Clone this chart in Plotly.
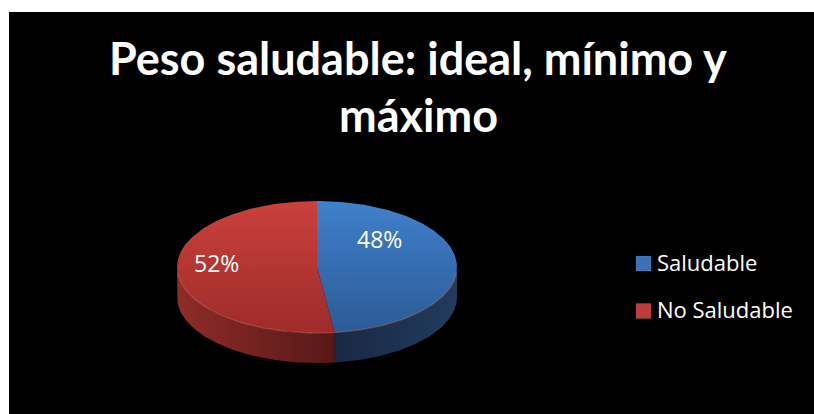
import numpy as np
import plotly.graph_objects as go

# Chart data
categories = ["Saludable", "No Saludable"]
values = [48, 52]

# Styling per category
top_colors = [("#4080CC", "#2C5B96"), ("#CB403D", "#9E2C2A")]
side_colors = [("#172944", "#233B5E"), ("#8E2C29", "#571817")]
legend_colors = ["#3A72B8", "#BE3B38"]

W, H = 814, 414
cx, cy, rx, ry, depth = 317, 267, 140, 66, 30


def pt(theta_deg, dz=0.0):
    t = np.radians(theta_deg)
    return cx + rx * np.sin(t), cy - ry * np.cos(t) + dz


fig = go.Figure()

total = float(sum(values))
bounds = []
acc = 0.0
for v in values:
    a0 = acc / total * 360.0
    acc += v
    a1 = acc / total * 360.0
    bounds.append((a0, a1))

# Side walls (only the front half of the disc is visible)
for (a0, a1), (c_left, c_right) in zip(bounds, side_colors):
    s0, s1 = max(a0, 90.0), min(a1, 270.0)
    if s1 <= s0:
        continue
    th = np.linspace(s0, s1, 80)
    xt, yt = pt(th)
    xb, yb = pt(th[::-1], depth)
    xs = np.concatenate([xt, xb, xt[:1]])
    ys = np.concatenate([yt, yb, yt[:1]])
    fig.add_trace(go.Scatter(
        x=xs, y=ys, mode="lines", line=dict(width=0), fill="toself",
        fillgradient=dict(type="horizontal",
                          colorscale=[[0, c_left], [1, c_right]]),
        hoverinfo="skip", showlegend=False))

# Top faces
for (a0, a1), (c_light, c_dark), name in zip(bounds, top_colors, categories):
    th = np.linspace(a0, a1, 160)
    xa, ya = pt(th)
    xs = np.concatenate([[cx], xa, [cx]])
    ys = np.concatenate([[cy], ya, [cy]])
    fig.add_trace(go.Scatter(
        x=xs, y=ys, mode="lines", line=dict(width=0), fill="toself",
        fillgradient=dict(type="vertical", start=cy - ry, stop=cy + ry,
                          colorscale=[[0, c_light], [1, c_dark]]),
        name=name, hoverinfo="skip", showlegend=False))

# Light rim along the front edge of the top face
th = np.linspace(95, 265, 120)
xr, yr = pt(th)
fig.add_trace(go.Scatter(x=xr, y=yr, mode="lines",
                         line=dict(color="rgba(255,140,130,0.35)", width=1.2),
                         hoverinfo="skip", showlegend=False))

# Percentage labels
label_pos = [(0.45, -28), (0.72, -4)]
annotations = []
for (a0, a1), v, (f, lift) in zip(bounds, values, label_pos):
    mid = np.radians((a0 + a1) / 2)
    lx = cx + f * rx * np.sin(mid)
    ly = cy + lift
    annotations.append(dict(x=lx, y=ly, xref="x", yref="y", showarrow=False,
                            text=f"{round(v / total * 100)}%",
                            font=dict(family="Open Sans", size=23, color="white"),
                            xanchor="center", yanchor="middle"))

# Legend entries
shapes = [dict(type="rect", xref="x", yref="y", x0=9, y0=12, x1=W, y1=H,
               fillcolor="black", line=dict(width=0), layer="below")]
for i, (name, col) in enumerate(zip(categories, legend_colors)):
    yc = 263.5 + i * 47.5
    shapes.append(dict(type="rect", xref="x", yref="y", x0=636, x1=651,
                       y0=yc - 7.5, y1=yc + 7.5, fillcolor=col,
                       line=dict(color="rgba(255,255,255,0.15)", width=0.5)))
    annotations.append(dict(x=655, y=yc - 2, xref="x", yref="y", showarrow=False,
                            text=name, xanchor="left", yanchor="middle",
                            font=dict(family="Open Sans", size=22, color="white")))

# Title
title_font = dict(family="Lato", size=45, color="white")
annotations.append(dict(x=418, y=76, xref="x", yref="y", showarrow=False,
                        text="<b>Peso saludable: ideal, mínimo y</b>",
                        xanchor="center", yanchor="bottom", yshift=-11,
                        font=title_font))
annotations.append(dict(x=418, y=133, xref="x", yref="y", showarrow=False,
                        text="<b>máximo</b>",
                        xanchor="center", yanchor="bottom", yshift=-11,
                        font=title_font))

fig.update_layout(
    width=W, height=H,
    margin=dict(l=0, r=0, t=0, b=0),
    paper_bgcolor="white", plot_bgcolor="rgba(0,0,0,0)",
    xaxis=dict(range=[0, W], visible=False, fixedrange=True),
    yaxis=dict(range=[H, 0], visible=False, fixedrange=True),
    shapes=shapes, annotations=annotations,
    showlegend=False, hovermode=False,
)

fig.write_html("out.html", config={"displayModeBar": False})
